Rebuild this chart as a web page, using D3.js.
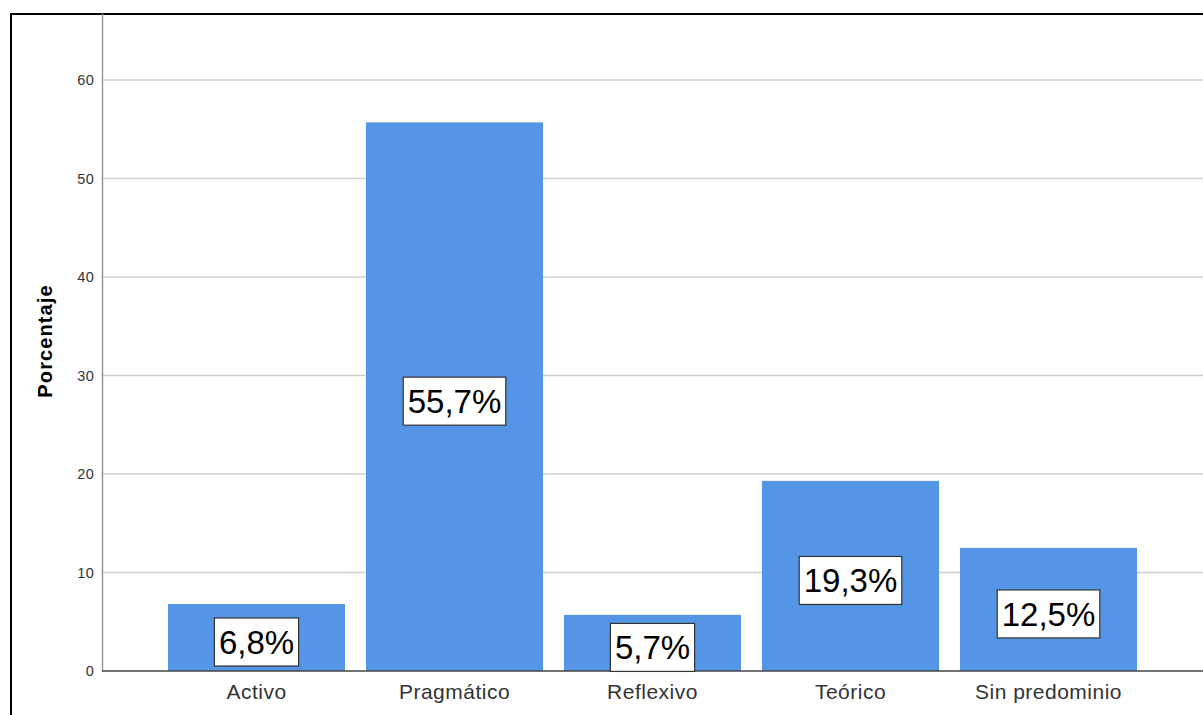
<!DOCTYPE html>
<html>
<head>
<meta charset="utf-8">
<script src="https://cdn.jsdelivr.net/npm/d3@7"></script>
<style>
  body { margin: 0; background: #fff; }
  svg { display: block; font-family: "Liberation Sans", Arial, sans-serif; }
</style>
</head>
<body>
<div id="chart"></div>
<script>
var categories = ['Activo', 'Pragmático', 'Reflexivo', 'Teórico', 'Sin predominio'];
var values = [6.8, 55.7, 5.7, 19.3, 12.5];
var labels = ['6,8%', '55,7%', '5,7%', '19,3%', '12,5%'];
var yTicks = [0, 10, 20, 30, 40, 50, 60];

var w = 1203, h = 715;
var plotLeft = 102, plotRight = 1203, plotTop = 13, plotBottom = 671;

var svg = d3.select('#chart').append('svg')
  .attr('width', w)
  .attr('height', h);

var x = d3.scaleBand()
  .domain(categories)
  .range([157.5, 1147.5])
  .paddingInner(0.106)
  .paddingOuter(0.053);

var y = d3.scaleLinear()
  .domain([0, 66.8])
  .range([plotBottom, plotTop]);

// outer frame
svg.append('rect')
  .attr('x', 11).attr('y', 14)
  .attr('width', w + 10).attr('height', h + 10)
  .attr('fill', 'none')
  .attr('stroke', '#000')
  .attr('stroke-width', 2);

// gridlines
svg.selectAll('.grid')
  .data(yTicks.filter(function(d) { return d > 0; }))
  .enter().append('line')
  .attr('x1', plotLeft).attr('x2', plotRight)
  .attr('y1', function(d) { return y(d); })
  .attr('y2', function(d) { return y(d); })
  .attr('stroke', '#cfcfcf')
  .attr('stroke-width', 1.5);

// y axis
var yAxis = d3.axisLeft(y).tickValues(yTicks).tickSize(0).tickPadding(8);
var gy = svg.append('g').attr('transform', 'translate(' + plotLeft + ',0)').call(yAxis);
gy.select('.domain').attr('stroke', '#999').attr('stroke-width', 1.5);
gy.selectAll('text').attr('font-size', 14.5).attr('fill', '#333')
  .attr('letter-spacing', 0.3)
  .attr('font-family', '"Liberation Sans", Arial, sans-serif');

svg.append('text')
  .attr('transform', 'translate(52,' + 341 + ') rotate(-90)')
  .attr('text-anchor', 'middle')
  .attr('font-size', 20)
  .attr('font-weight', 'bold')
  .attr('letter-spacing', 1.1)
  .attr('fill', '#000')
  .text('Porcentaje');

// bars
svg.selectAll('.bar')
  .data(values)
  .enter().append('rect')
  .attr('class', 'bar')
  .attr('x', function(d, i) { return x(categories[i]); })
  .attr('width', x.bandwidth())
  .attr('y', function(d) { return y(d); })
  .attr('height', function(d) { return plotBottom - y(d); })
  .attr('fill', '#5595e5');

// baseline
var xAxis = d3.axisBottom(x).tickSize(0).tickPadding(13);
var gx = svg.append('g').attr('transform', 'translate(0,' + plotBottom + ')').call(xAxis);
gx.select('.domain').remove();
gx.append('line')
  .attr('x1', plotLeft).attr('x2', plotRight)
  .attr('stroke', '#444').attr('stroke-width', 1.5);
gx.selectAll('text').attr('font-size', 21).attr('fill', '#333')
  .attr('letter-spacing', 0.5)
  .attr('font-family', '"Liberation Sans", Arial, sans-serif');

// value labels
var lab = svg.selectAll('.lab')
  .data(values)
  .enter().append('g')
  .attr('class', 'lab')
  .attr('transform', function(d, i) {
    return 'translate(' + (x(categories[i]) + x.bandwidth() / 2) + ',' + ((y(d) + plotBottom) / 2 + 4.5) + ')';
  });

lab.append('text')
  .attr('text-anchor', 'middle')
  .attr('dy', '0.36em')
  .attr('font-size', 33)
  .attr('fill', '#000')
  .text(function(d, i) { return labels[i]; });

lab.each(function() {
  var g = d3.select(this);
  var bb = g.select('text').node().getBBox();
  g.insert('rect', 'text')
    .attr('x', bb.x - 4.5)
    .attr('y', -24)
    .attr('width', bb.width + 9)
    .attr('height', 48)
    .attr('fill', '#fff')
    .attr('stroke', '#333')
    .attr('stroke-width', 1.2);
});
</script>
</body>
</html>
